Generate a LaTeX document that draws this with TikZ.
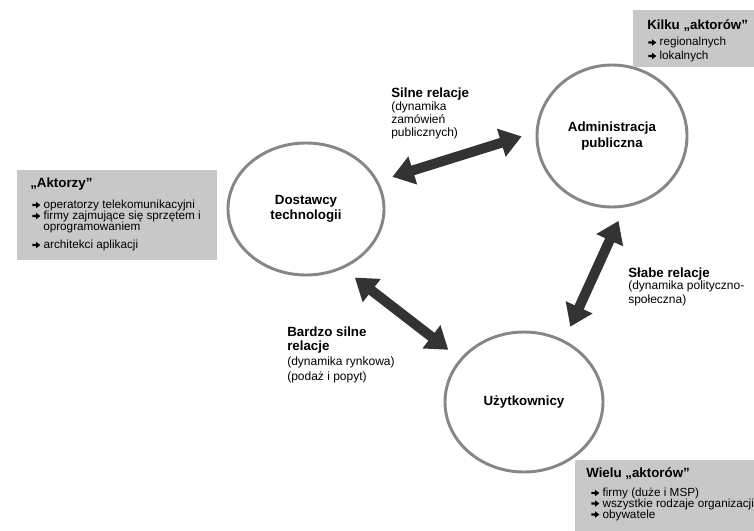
\documentclass[tikz,border=0pt]{standalone}
\usepackage{fontspec}
\setmainfont{Liberation Sans}
\usetikzlibrary{arrows.meta,shapes.geometric}
\definecolor{ringgray}{HTML}{868686}
\definecolor{boxgray}{HTML}{C8C8C8}
\definecolor{arrowdark}{HTML}{333333}
% heavy bullet arrow used in the actor lists
\newcommand\arrowmark{\makebox[8.5pt][l]{\tikz[baseline=0pt]
  \fill (0pt,1.7pt) -- (2.9pt,1.7pt) -- (2.9pt,0.2pt) -- (6pt,2.6pt)
        -- (2.9pt,5pt) -- (2.9pt,3.5pt) -- (0pt,3.5pt) -- cycle;}}

\begin{document}
\begin{tikzpicture}[x=0.75pt,y=-0.75pt,
  actor/.style={ellipse, draw=ringgray, line width=2.2pt, fill=white, inner sep=0pt,
    align=center, font=\fontsize{10}{11.5}\selectfont\bfseries},
  infobox/.style={rectangle, fill=boxgray, inner sep=0pt, anchor=north west},
  boxtitle/.style={anchor=base west, inner sep=0pt, font=\fontsize{10}{12}\selectfont\bfseries},
  boxitem/.style={anchor=base west, inner sep=0pt, font=\fontsize{8.8}{10}\selectfont},
  reltitle/.style={anchor=base west, inner sep=0pt, align=left, font=\fontsize{10}{10.5}\selectfont\bfseries},
  reltext/.style={anchor=base west, inner sep=0pt, align=left, font=\fontsize{9}{9.75}\selectfont},
  link/.style={draw=arrowdark, line width=7.5pt,
    {Triangle[length=16pt,width=21pt]}-{Triangle[length=16pt,width=21pt]},
    shorten <=11pt, shorten >=11pt}
]
\useasboundingbox (0,0) rectangle (754,531);

% the three groups of actors
\node[actor, minimum width=117pt, minimum height=99pt] (dost) at (306,209) {Dostawcy\\technologii};
\node[actor, minimum width=112.5pt, minimum height=106.5pt] (admin) at (612,136) {Administracja\\publiczna};
\node[actor, minimum width=118.5pt, minimum height=105pt] (user) at (524,402) {Użytkownicy};

% relations between them
\draw[link] (dost.21) -- (admin.177);
\draw[link] (dost.-58) -- (user.146);
\draw[link] (admin.-80) -- (user.57);

% relation labels (multi-line nodes sit on the baseline of their last line)
\node[reltitle] (silneT) at (391,98) {Silne relacje};
\node[reltext] (silneD) at (391,137) {(dynamika\\zamówień\\publicznych)};
\node[reltitle] (bardzoT) at (287,350) {Bardzo silne\\relacje};
\node[reltext] (bardzoD) at (287,380) {(dynamika rynkowa)\\[1.5pt](podaż i popyt)};
\node[reltitle] (slabeT) at (628,277) {Słabe relacje};
\node[reltext] (slabeD) at (628,304) {(dynamika polityczno-\\[0.75pt]społeczna)};

% public administration actors
\node[infobox, minimum width=90.75pt, minimum height=42.75pt] (kilkuBox) at (633,10) {};
\node[boxtitle] (kilkuT) at (647,30) {Kilku „aktorów”};
\node[boxitem] (kilku1) at (648,46) {\arrowmark regionalnych};
\node[boxitem] (kilku2) at (648,59.5) {\arrowmark lokalnych};

% technology suppliers
\node[infobox, minimum width=150pt, minimum height=67.5pt] (aktBox) at (17,170) {};
\node[boxtitle] (aktT) at (30,188) {„Aktorzy”};
\node[boxitem] (akt1) at (32,208.5) {\arrowmark operatorzy telekomunikacyjni};
\node[boxitem] (akt2) at (32,219.5) {\arrowmark firmy zajmujące się sprzętem i};
\node[boxitem] (akt2b) at (43,230.5) {oprogramowaniem};
\node[boxitem] (akt3) at (32,248.5) {\arrowmark architekci aplikacji};

% users
\node[infobox, minimum width=134.25pt, minimum height=53.25pt] (wieluBox) at (575,460) {};
\node[boxtitle] (wieluT) at (586,477) {Wielu „aktorów”};
\node[boxitem] (wielu1) at (591,496.5) {\arrowmark firmy (duże i MSP)};
\node[boxitem] (wielu2) at (591,507) {\arrowmark wszystkie rodzaje organizacji};
\node[boxitem] (wielu3) at (591,518) {\arrowmark obywatele};
\end{tikzpicture}
\end{document}
